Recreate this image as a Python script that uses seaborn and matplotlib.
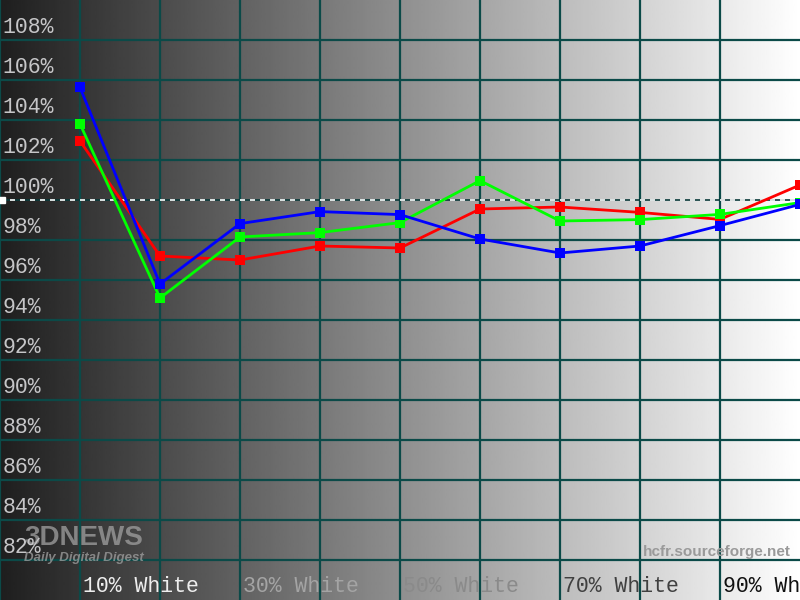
import numpy as np
import pandas as pd
import matplotlib
matplotlib.use("Agg")
import matplotlib.pyplot as plt
import seaborn as sns

# ---- data ----
levels = [10, 20, 30, 40, 50, 60, 70, 80, 90, 100]
red = [102.95, 97.2, 97.0, 97.7, 97.6, 99.55, 99.65, 99.38, 99.03, 100.75]
green = [103.8, 95.1, 98.15, 98.37, 98.87, 100.97, 98.95, 99.02, 99.28, 99.87]
blue = [105.63, 95.8, 98.82, 99.42, 99.27, 98.05, 97.35, 97.7, 98.72, 99.78]
y_ticks = [82, 84, 86, 88, 90, 92, 94, 96, 98, 100, 102, 104, 106, 108]
x_label_pos = [10, 30, 50, 70, 90]
x_labels = ["10% White", "30% White", "50% White", "70% White", "90% White"]
x_label_colors = ["#eeeeee", "#a4a4a4", "#8a8a8a", "#404040", "#101010"]

df = pd.DataFrame({
    "level": levels * 3,
    "value": red + green + blue,
    "channel": ["R"] * len(levels) + ["G"] * len(levels) + ["B"] * len(levels),
})

sns.set_theme(style="white")
plt.rcParams["font.family"] = ["Liberation Mono", "DejaVu Sans Mono"]

fig = plt.figure(figsize=(8, 6), dpi=100)
ax = fig.add_axes([0, 0, 1, 1])
ax.set_xlim(0, 100)
ax.set_ylim(80, 110)

# gradient background
grad = np.linspace(0.12, 1.0, 400).reshape(1, -1)
ax.imshow(grad, extent=[0, 100, 80, 110], aspect="auto", cmap="gray",
          vmin=0, vmax=1, zorder=0, interpolation="bilinear")

# grid
grid_c = "#0b4a48"
for x in range(0, 100, 10):
    ax.axvline(x, color=grid_c, lw=1.6, zorder=1)
for y in y_ticks:
    if y != 100:
        ax.axhline(y, color=grid_c, lw=1.6, zorder=1)
ax.axhline(100, color="#0b3a3a", lw=1.2, zorder=1)
ax.axhline(100, color="white", lw=1.2, ls=(0, (3, 3)), zorder=1.1)
ax.plot([0.3], [100], marker="s", color="white", ms=5, clip_on=False, zorder=2)

# lines
sns.lineplot(data=df, x="level", y="value", hue="channel",
             palette={"R": "#ff0000", "G": "#00ff00", "B": "#0000ff"},
             hue_order=["R", "G", "B"], marker="s", markersize=7,
             markeredgewidth=0, linewidth=2, legend=False, ax=ax, zorder=3)
for ln in ax.lines[-3:]:
    ln.set_clip_on(True)

# y labels
for y in y_ticks:
    ax.text(0.35, y + 0.08, f"{y}%", color="#c6c6c8", fontsize=15.5,
            ha="left", va="bottom", zorder=4)

# x labels
for x, lab, c in zip(x_label_pos, x_labels, x_label_colors):
    ax.text(x + 0.35, 80.65, lab, color=c, fontsize=15.5, ha="left",
            va="center", zorder=4, clip_on=True)

# watermarks
ax.text(98.8, 82.4, "hcfr.sourceforge.net", color="#9a9a9a", fontsize=11,
        fontweight="bold", family="Liberation Sans", ha="right", va="center",
        zorder=2)
ax.text(10.5, 83.1, "3DNEWS", color="#9a9a9a", fontsize=20, fontweight="bold",
        family="Liberation Sans", ha="center", va="center", zorder=2, alpha=0.8)
ax.text(10.5, 82.1, "Daily Digital Digest", color="#9a9a9a", fontsize=9.5,
        fontweight="bold", fontstyle="italic", family="Liberation Sans",
        ha="center", va="center", zorder=2, alpha=0.8)

ax.set_xticks([])
ax.set_yticks([])
ax.set_xlabel("")
ax.set_ylabel("")
for s in ax.spines.values():
    s.set_visible(False)

fig.savefig("out.png", dpi=100)
